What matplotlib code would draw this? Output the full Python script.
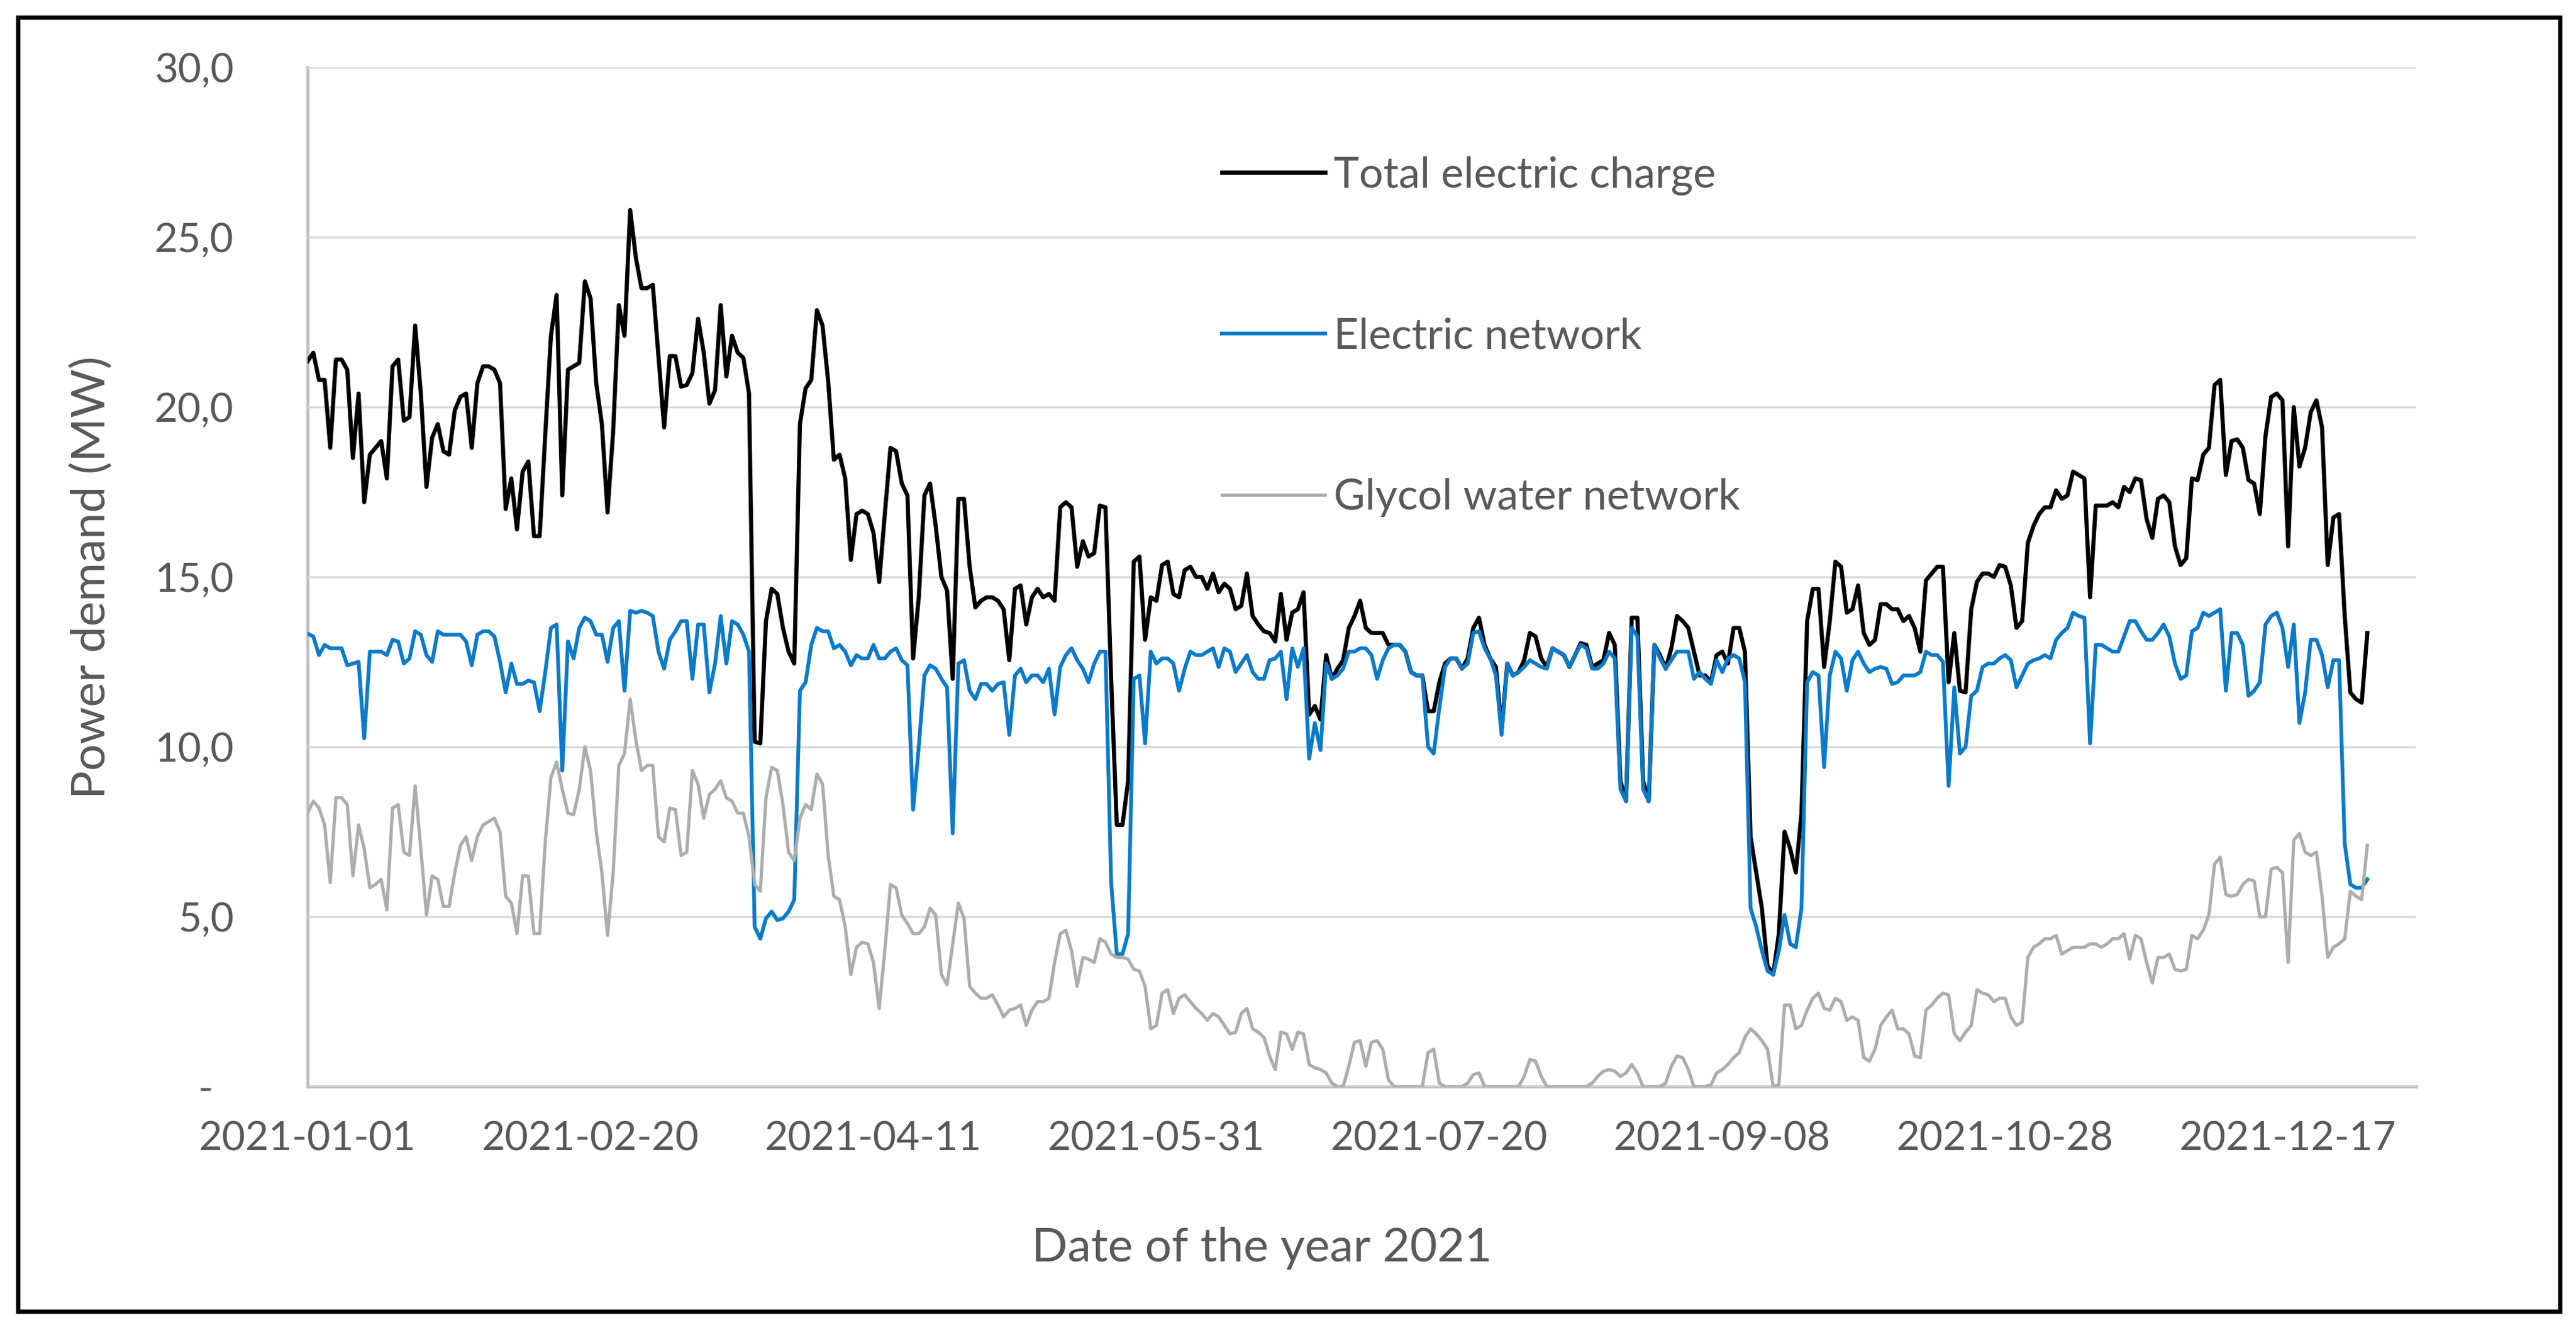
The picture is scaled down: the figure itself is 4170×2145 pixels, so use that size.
import pandas as pd
import matplotlib
matplotlib.use('Agg')
import matplotlib.pyplot as plt
from matplotlib.patches import Rectangle

# ================= DATA (MW, one value per day of 2021) =================
total = [
    21.35, 21.6, 20.8, 20.8, 18.8, 21.4, 21.4, 21.1, 18.5, 20.4,
    17.2, 18.6, 18.8, 19.0, 17.9, 21.2, 21.4, 19.6, 19.7, 22.4,
    20.4, 17.65, 19.1, 19.5, 18.7, 18.6, 19.9, 20.3, 20.4, 18.8,
    20.7, 21.2, 21.2, 21.1, 20.7, 17.0, 17.9, 16.4, 18.1, 18.4,
    16.2, 16.2, 19.2, 22.1, 23.3, 17.4, 21.1, 21.2, 21.3, 23.7,
    23.2, 20.7, 19.5, 16.9, 19.3, 23.0, 22.1, 25.8, 24.4, 23.5,
    23.5, 23.6, 21.5, 19.4, 21.5, 21.5, 20.6, 20.65, 21.0, 22.6,
    21.6, 20.1, 20.5, 23.0, 20.9, 22.1, 21.6, 21.45, 20.4, 10.15,
    10.1, 13.7, 14.65, 14.5, 13.5, 12.8, 12.45, 19.5, 20.55, 20.8,
    22.85, 22.4, 20.75, 18.45, 18.6, 17.9, 15.5, 16.85, 16.95, 16.85,
    16.3, 14.85, 16.85, 18.8, 18.7, 17.75, 17.4, 12.6, 14.4, 17.4,
    17.75, 16.5, 15.0, 14.6, 12.0, 17.3, 17.3, 15.3, 14.1, 14.3,
    14.4, 14.4, 14.3, 14.05, 12.55, 14.65, 14.75, 13.6, 14.4, 14.65,
    14.4, 14.5, 14.3, 17.05, 17.2, 17.05, 15.3, 16.05, 15.6, 15.7,
    17.1, 17.05, 12.0, 7.7, 7.7, 9.0, 15.45, 15.6, 13.15, 14.4,
    14.3, 15.35, 15.45, 14.5, 14.4, 15.2, 15.3, 15.0, 15.0, 14.65,
    15.1, 14.55, 14.8, 14.65, 14.05, 14.15, 15.1, 13.85, 13.6, 13.4,
    13.35, 13.1, 14.5, 13.15, 13.95, 14.05, 14.55, 10.95, 11.2, 10.8,
    12.7, 12.0, 12.3, 12.55, 13.5, 13.85, 14.3, 13.5, 13.35, 13.35,
    13.35, 13.0, 13.0, 13.0, 12.8, 12.2, 12.1, 12.1, 11.05, 11.05,
    11.9, 12.45, 12.6, 12.6, 12.3, 12.6, 13.5, 13.8, 13.0, 12.6,
    12.35, 10.5, 12.45, 12.1, 12.2, 12.55, 13.35, 13.25, 12.6, 12.35,
    12.9, 12.8, 12.7, 12.35, 12.7, 13.05, 13.0, 12.35, 12.45, 12.55,
    13.35, 13.0, 9.0, 8.4, 13.8, 13.8, 9.0, 8.4, 13.0, 12.7,
    12.3, 12.9, 13.85, 13.7, 13.5, 12.8, 12.1, 12.1, 11.9, 12.7,
    12.8, 12.45, 13.5, 13.5, 12.8, 7.35, 6.3, 5.25, 3.55, 3.3,
    4.5, 7.5, 7.0, 6.3, 8.05, 13.7, 14.65, 14.65, 12.35, 13.7,
    15.45, 15.3, 13.95, 14.05, 14.75, 13.35, 13.0, 13.15, 14.2, 14.2,
    14.05, 14.05, 13.7, 13.85, 13.5, 12.8, 14.9, 15.1, 15.3, 15.3,
    11.9, 13.35, 11.65, 11.6, 14.05, 14.85, 15.1, 15.1, 15.0, 15.35,
    15.3, 14.75, 13.5, 13.7, 16.0, 16.5, 16.85, 17.05, 17.05, 17.55,
    17.3, 17.4, 18.1, 18.0, 17.9, 14.4, 17.1, 17.1, 17.1, 17.2,
    17.05, 17.65, 17.5, 17.9, 17.85, 16.7, 16.15, 17.3, 17.4, 17.2,
    15.9, 15.35, 15.55, 17.9, 17.85, 18.6, 18.8, 20.65, 20.8, 18.0,
    19.0, 19.05, 18.8, 17.85, 17.75, 16.85, 19.15, 20.3, 20.4, 20.2,
    15.9, 20.0, 18.25, 18.8, 19.85, 20.2, 19.4, 15.35, 16.75, 16.85,
    13.85, 11.6, 11.4, 11.3, 13.35,
]

electric = [
    13.33, 13.25, 12.7, 13.0, 12.9, 12.9, 12.9, 12.4, 12.45, 12.5,
    10.25, 12.8, 12.8, 12.8, 12.7, 13.15, 13.1, 12.45, 12.6, 13.4,
    13.3, 12.7, 12.5, 13.4, 13.3, 13.3, 13.3, 13.3, 13.1, 12.4,
    13.3, 13.4, 13.4, 13.25, 12.5, 11.6, 12.45, 11.85, 11.85, 11.95,
    11.9, 11.05, 12.2, 13.5, 13.6, 9.3, 13.1, 12.6, 13.5, 13.8,
    13.7, 13.3, 13.3, 12.5, 13.5, 13.7, 11.65, 14.0, 13.95, 14.0,
    13.95, 13.85, 12.8, 12.3, 13.15, 13.4, 13.7, 13.7, 12.0, 13.6,
    13.6, 11.6, 12.45, 13.85, 12.45, 13.7, 13.6, 13.3, 12.8, 4.7,
    4.35, 4.95, 5.15, 4.9, 4.95, 5.15, 5.5, 11.65, 11.9, 13.0,
    13.5, 13.4, 13.4, 12.9, 13.0, 12.8, 12.4, 12.7, 12.6, 12.6,
    13.0, 12.6, 12.6, 12.8, 12.9, 12.55, 12.4, 8.15, 10.0, 12.1,
    12.4, 12.3, 12.0, 11.75, 7.45, 12.45, 12.55, 11.65, 11.4, 11.85,
    11.85, 11.65, 11.85, 11.9, 10.35, 12.1, 12.3, 11.9, 12.1, 12.1,
    11.9, 12.3, 10.95, 12.35, 12.7, 12.9, 12.55, 12.3, 11.9, 12.45,
    12.8, 12.8, 6.0, 3.9, 3.9, 4.5, 12.0, 12.1, 10.1, 12.8,
    12.45, 12.6, 12.6, 12.45, 11.65, 12.3, 12.8, 12.7, 12.7, 12.8,
    12.9, 12.35, 12.9, 12.8, 12.2, 12.45, 12.7, 12.2, 12.0, 12.0,
    12.55, 12.6, 12.8, 11.4, 12.9, 12.35, 12.9, 9.65, 10.7, 9.9,
    12.45, 12.0, 12.1, 12.3, 12.8, 12.8, 12.9, 12.9, 12.7, 12.0,
    12.55, 12.9, 13.0, 13.0, 12.8, 12.2, 12.1, 12.1, 10.0, 9.8,
    11.15, 12.35, 12.6, 12.6, 12.3, 12.45, 13.35, 13.4, 12.9, 12.6,
    12.1, 10.35, 12.45, 12.1, 12.2, 12.35, 12.55, 12.45, 12.35, 12.3,
    12.9, 12.8, 12.7, 12.35, 12.7, 13.0, 12.9, 12.3, 12.3, 12.45,
    12.8, 12.6, 8.75, 8.4, 13.5, 13.25, 8.75, 8.4, 13.0, 12.6,
    12.3, 12.55, 12.8, 12.8, 12.8, 12.0, 12.2, 12.0, 11.85, 12.55,
    12.2, 12.6, 12.7, 12.6, 11.9, 5.25, 4.7, 4.0, 3.4, 3.3,
    4.0, 5.05, 4.2, 4.1, 5.25, 11.9, 12.2, 12.1, 9.4, 12.1,
    12.8, 12.6, 11.65, 12.55, 12.8, 12.45, 12.2, 12.3, 12.35, 12.3,
    11.85, 11.9, 12.1, 12.1, 12.1, 12.2, 12.8, 12.7, 12.7, 12.5,
    8.85, 11.75, 9.8, 10.0, 11.5, 11.65, 12.35, 12.45, 12.45, 12.6,
    12.7, 12.55, 11.75, 12.1, 12.45, 12.55, 12.6, 12.7, 12.6, 13.15,
    13.35, 13.5, 13.95, 13.85, 13.8, 10.1, 13.0, 13.0, 12.9, 12.8,
    12.8, 13.25, 13.7, 13.7, 13.4, 13.15, 13.15, 13.35, 13.6, 13.25,
    12.45, 12.0, 12.1, 13.4, 13.5, 13.95, 13.85, 13.95, 14.05, 11.65,
    13.35, 13.35, 13.0, 11.5, 11.65, 11.9, 13.6, 13.85, 13.95, 13.5,
    12.35, 13.6, 10.7, 11.6, 13.15, 13.15, 12.7, 11.75, 12.55, 12.55,
    7.15, 5.95, 5.85, 5.85, 6.1,
]

glycol = [
    8.05, 8.4, 8.2, 7.7, 6.0, 8.5, 8.5, 8.3, 6.2, 7.7,
    7.0, 5.85, 5.95, 6.1, 5.2, 8.2, 8.3, 6.9, 6.8, 8.85,
    7.0, 5.05, 6.2, 6.1, 5.3, 5.3, 6.3, 7.1, 7.35, 6.65,
    7.35, 7.7, 7.8, 7.9, 7.5, 5.6, 5.4, 4.5, 6.2, 6.2,
    4.5, 4.5, 7.2, 9.1, 9.55, 8.75, 8.05, 8.0, 8.75, 10.0,
    9.3, 7.5, 6.3, 4.45, 6.3, 9.45, 9.8, 11.4, 10.2, 9.3,
    9.45, 9.45, 7.35, 7.2, 8.2, 8.15, 6.8, 6.9, 9.3, 8.9,
    7.9, 8.6, 8.75, 9.0, 8.5, 8.4, 8.05, 8.05, 7.35, 5.95,
    5.75, 8.5, 9.4, 9.3, 8.3, 6.9, 6.65, 7.9, 8.3, 8.15,
    9.2, 8.9, 6.8, 5.6, 5.5, 4.7, 3.3, 4.1, 4.25, 4.2,
    3.65, 2.3, 4.0, 5.95, 5.85, 5.05, 4.8, 4.5, 4.5, 4.7,
    5.25, 5.05, 3.3, 3.0, 4.2, 5.4, 4.95, 2.95, 2.75, 2.6,
    2.6, 2.7, 2.4, 2.05, 2.25, 2.3, 2.4, 1.8, 2.25, 2.5,
    2.5, 2.6, 3.65, 4.5, 4.6, 4.0, 2.95, 3.8, 3.75, 3.65,
    4.35, 4.25, 3.9, 3.8, 3.8, 3.75, 3.45, 3.4, 2.95, 1.7,
    1.8, 2.75, 2.85, 2.15, 2.6, 2.7, 2.5, 2.3, 2.15, 1.95,
    2.15, 2.05, 1.8, 1.55, 1.6, 2.15, 2.3, 1.7, 1.6, 1.45,
    0.9, 0.5, 1.6, 1.55, 1.1, 1.6, 1.55, 0.65, 0.55, 0.5,
    0.4, 0.1, 0.0, 0.0, 0.6, 1.3, 1.35, 0.6, 1.3, 1.35,
    1.1, 0.2, 0.0, 0.0, 0.0, 0.0, 0.0, 0.0, 1.0, 1.1,
    0.1, 0.0, 0.0, 0.0, 0.0, 0.1, 0.35, 0.4, 0.0, 0.0,
    0.0, 0.0, 0.0, 0.0, 0.0, 0.3, 0.8, 0.75, 0.3, 0.0,
    0.0, 0.0, 0.0, 0.0, 0.0, 0.0, 0.0, 0.1, 0.3, 0.45,
    0.5, 0.45, 0.3, 0.4, 0.65, 0.4, 0.0, 0.0, 0.0, 0.0,
    0.1, 0.6, 0.9, 0.85, 0.5, 0.0, 0.0, 0.0, 0.05, 0.4,
    0.5, 0.65, 0.85, 1.0, 1.45, 1.7, 1.55, 1.35, 1.1, 0.0,
    0.05, 2.4, 2.4, 1.7, 1.8, 2.25, 2.6, 2.75, 2.3, 2.25,
    2.6, 2.5, 1.95, 2.05, 1.95, 0.85, 0.75, 1.1, 1.8, 2.05,
    2.25, 1.7, 1.7, 1.55, 0.9, 0.85, 2.25, 2.4, 2.6, 2.75,
    2.7, 1.55, 1.35, 1.6, 1.8, 2.85, 2.75, 2.7, 2.5, 2.6,
    2.6, 2.05, 1.8, 1.9, 3.8, 4.1, 4.2, 4.35, 4.35, 4.45,
    3.9, 4.0, 4.1, 4.1, 4.1, 4.2, 4.2, 4.1, 4.2, 4.35,
    4.35, 4.5, 3.75, 4.45, 4.35, 3.65, 3.05, 3.8, 3.8, 3.9,
    3.45, 3.4, 3.45, 4.45, 4.35, 4.6, 5.05, 6.55, 6.75, 5.65,
    5.6, 5.65, 5.95, 6.1, 6.05, 5.0, 5.0, 6.4, 6.45, 6.3,
    3.65, 7.25, 7.45, 6.9, 6.8, 6.9, 5.6, 3.8, 4.1, 4.2,
    4.35, 5.75, 5.6, 5.5, 7.1,
]

series_names = ['Total electric charge', 'Electric network', 'Glycol water network']
y_ticks = [0, 5, 10, 15, 20, 25, 30]
y_tick_labels = ['-  ', '5,0', '10,0', '15,0', '20,0', '25,0', '30,0']
tick_step_days = 50
# =========================================================================

TEXT_COLOR = '#595959'
plt.rcParams['font.family'] = ['Lato', 'DejaVu Sans']

W, H = 4170, 2145
fig = plt.figure(figsize=(W / 100, H / 100), dpi=100)
fig.patch.set_facecolor('white')

# plot area in pixel coords of the reference
left, right, top, bottom = 498, 3911, 109, 1759
ax = fig.add_axes([left / W, 1 - bottom / H, (right - left) / W, (bottom - top) / H])

dates = pd.date_range('2021-01-01', periods=len(total), freq='D')

ax.plot(dates, total, color='#000000', lw=4.8, label=series_names[0])
ax.plot(dates, electric, color='#0A7BCB', lw=4.4, label=series_names[1])
ax.plot(dates, glycol, color='#ADADAD', lw=3.8, label=series_names[2])

ax.set_xlim(dates[0], dates[0] + pd.Timedelta(days=372.6))
ax.set_ylim(0, 30)

tick_dates = dates[::tick_step_days]
ax.set_xticks(tick_dates)
ax.set_xticklabels([d.strftime('%Y-%m-%d') for d in tick_dates])
ax.set_yticks(y_ticks)
ax.set_yticklabels(y_tick_labels)
ax.tick_params(axis='both', length=0, colors=TEXT_COLOR, labelsize=47)
ax.tick_params(axis='x', pad=40)
ax.tick_params(axis='y', pad=86)

ax.yaxis.grid(True, color='#D9D9D9', lw=2.5)
ax.set_axisbelow(True)
for s in ['top', 'right']:
    ax.spines[s].set_visible(False)
for s in ['left', 'bottom']:
    ax.spines[s].set_color('#BFBFBF')
    ax.spines[s].set_linewidth(3.5)
    ax.spines[s].set_zorder(0.5)

fig.text(148 / W, 1 - 935 / H, 'Power demand (MW)', rotation=90,
         ha='center', va='center', color=TEXT_COLOR, fontsize=55)
fig.text(2043 / W, 1 - 2020 / H, 'Date of the year 2021',
         ha='center', va='center', color=TEXT_COLOR, fontsize=55)

ax.legend(loc='upper left', bbox_to_anchor=(1978 / W, 1 - 252 / H),
          bbox_transform=fig.transFigure, frameon=False,
          handlelength=2.4, handletextpad=0.2, labelspacing=2.85,
          borderpad=0, borderaxespad=0, fontsize=50, labelcolor=TEXT_COLOR)

# outer black frame
fig.add_artist(Rectangle((29 / W, 1 - 2123 / H), (4144 - 29) / W, (2123 - 28) / H,
                         transform=fig.transFigure, fill=False,
                         edgecolor='black', lw=5))

fig.savefig('out.png', dpi=100)
